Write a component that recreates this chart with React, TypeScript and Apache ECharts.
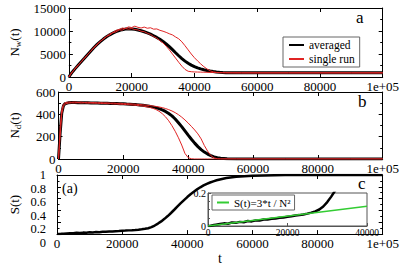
import React, { useEffect, useRef } from 'react';
import * as echarts from 'echarts';

// time grid (shared by all panels)
const T = [0, 500, 1000, 1500, 2000, 3000, 4000, 5000, 6000, 7000, 8000, 9000, 10000, 11000, 12000, 13000, 14000, 15000, 16000, 17000, 18000, 19000, 20000, 21000, 22000, 23000, 24000, 25000, 26000, 27000, 28000, 29000, 30000, 31000, 32000, 33000, 34000, 35000, 36000, 37000, 38000, 39000, 40000, 41000, 42000, 43000, 44000, 45000, 46000, 47000, 48000, 49000, 50000, 52000, 55000, 60000, 70000, 80000, 90000, 100000];

// panel a : N_w(t)
const nwAveraged = [0, 550, 1000, 1420, 1820, 2600, 3380, 4120, 4900, 5650, 6400, 7080, 7700, 8250, 8740, 9170, 9540, 9850, 10100, 10290, 10410, 10460, 10440, 10360, 10230, 10050, 9840, 9600, 9310, 8970, 8600, 8190, 7740, 7200, 6600, 5950, 5280, 4620, 4000, 3450, 2980, 2580, 2250, 1980, 1760, 1580, 1430, 1300, 1190, 1100, 1030, 980, 950, 920, 900, 900, 900, 900, 900, 900];
const nwRun1 = [0, 600, 1050, 1400, 1900, 2650, 3300, 4200, 4850, 5700, 6350, 7150, 7650, 8350, 8800, 9350, 9650, 10150, 10300, 10650, 10550, 10900, 10750, 11050, 10800, 10650, 10850, 10600, 10700, 10400, 10450, 10150, 9950, 9700, 9400, 9150, 8700, 8300, 7650, 6800, 5900, 5000, 4200, 3500, 2850, 2250, 1750, 1350, 1120, 1000, 950, 930, 920, 910, 900, 900, 900, 900, 900, 900];
const nwRun2 = [0, 520, 950, 1450, 1780, 2580, 3420, 4050, 4950, 5600, 6450, 7000, 7800, 8200, 8850, 9100, 9650, 9800, 10250, 10200, 10550, 10400, 10550, 10300, 10250, 9950, 9850, 9500, 9250, 8800, 8450, 7900, 7400, 6700, 5900, 5000, 4100, 3200, 2350, 1650, 1250, 1150, 1100, 1080, 1060, 1040, 1020, 1000, 980, 960, 950, 940, 930, 910, 900, 900, 900, 900, 900, 900];

// panel b : N_d(t)
const ndAveraged = [0, 230, 410, 475, 495, 503, 505, 505, 504, 504, 503, 503, 502, 502, 501, 500, 500, 499, 498, 497, 496, 495, 494, 492, 491, 489, 487, 484, 481, 477, 473, 467, 460, 451, 440, 426, 408, 386, 358, 325, 290, 252, 214, 177, 142, 111, 84, 62, 44, 30, 19, 12, 7, 2, 0, 0, 0, 0, 0, 0];
const ndRun1 = [0, 280, 440, 490, 505, 510, 508, 511, 507, 509, 506, 508, 505, 506, 503, 505, 502, 503, 500, 501, 498, 499, 496, 495, 494, 492, 490, 488, 485, 482, 479, 475, 471, 466, 460, 452, 442, 430, 415, 397, 375, 350, 322, 292, 260, 225, 180, 120, 70, 30, 10, 2, 0, 0, 0, 0, 0, 0, 0, 0];
const ndRun2 = [0, 200, 400, 470, 492, 500, 503, 502, 504, 501, 503, 500, 501, 499, 500, 497, 498, 495, 496, 493, 493, 490, 490, 487, 486, 483, 481, 477, 474, 469, 463, 455, 444, 428, 406, 378, 342, 298, 248, 190, 125, 50, 12, 2, 0, 0, 0, 0, 0, 0, 0, 0, 0, 0, 0, 0, 0, 0, 0, 0];

// panel c : S(t)
const sAveraged = [0, 0, 0.003, 0.006, 0.008, 0.012, 0.016, 0.014, 0.021, 0.019, 0.025, 0.023, 0.03, 0.028, 0.034, 0.033, 0.039, 0.04, 0.044, 0.046, 0.05, 0.052, 0.056, 0.059, 0.063, 0.066, 0.07, 0.075, 0.081, 0.089, 0.1, 0.118, 0.145, 0.178, 0.215, 0.258, 0.305, 0.357, 0.412, 0.468, 0.523, 0.576, 0.627, 0.675, 0.718, 0.757, 0.792, 0.823, 0.85, 0.873, 0.893, 0.91, 0.925, 0.948, 0.97, 0.988, 0.998, 1, 1, 1];
const sTicks = [0, 0.2, 0.4, 0.6, 0.8, 1];
// inset fit S(t)=3*t/N^2
const fitT = [0, 40000];
const fitS = [0, 0.12];

const FONT = '"Liberation Serif", "Times New Roman", serif';
const GRID_C = { left: 49, top: 175, width: 334, height: 68 };

const pairs = (xs: number[], ys: number[]) => xs.map((x, i) => [x, ys[i]]);
const fmtX = (v: number) => (v === 100000 ? '1e+05' : String(v));
const fmtY = (v: number) => String(Math.round(v * 1000) / 1000);

const tick = { show: true, inside: true, length: 4, lineStyle: { color: '#000', width: 1 } };
const line = { show: true, onZero: false, lineStyle: { color: '#000', width: 1 } };

function xAx(gridIndex: number, position: string, showLabel: boolean, extra: any = {}) {
  return {
    type: 'value', gridIndex, position, min: 0, max: 100000, interval: 20000,
    axisLine: line, axisTick: tick, minorTick: { show: false }, splitLine: { show: false },
    axisLabel: { show: showLabel, fontFamily: FONT, fontSize: 13, color: '#000', margin: 3, formatter: fmtX, showMinLabel: true, showMaxLabel: true, hideOverlap: false },
    ...extra,
  };
}
function yAx(gridIndex: number, position: string, max: number, interval: number, showLabel: boolean, fontSize: number, extra: any = {}) {
  return {
    type: 'value', gridIndex, position, min: 0, max, interval,
    axisLine: line, axisTick: tick,
    minorTick: { show: true, splitNumber: 2, length: 2.5, lineStyle: { color: '#000', width: 1 } },
    splitLine: { show: false },
    axisLabel: { show: showLabel, fontFamily: FONT, fontSize, lineHeight: 11, color: '#000', margin: 3, formatter: fmtY, showMinLabel: true, showMaxLabel: true, hideOverlap: false },
    ...extra,
  };
}
const yName = (name: string) => ({
  name, nameLocation: 'middle', nameRotate: 90, nameGap: 36,
  nameTextStyle: {
    color: '#000', fontFamily: FONT, fontSize: 13,
    rich: {
      n: { fontFamily: FONT, fontSize: 13, color: '#000' },
      s: { fontFamily: FONT, fontSize: 9, color: '#000', padding: [7, 0, 0, 0] },
    },
  },
});

export default function App() {
  const ref = useRef<HTMLDivElement>(null);
  useEffect(() => {
    const chart = echarts.init(ref.current!, null, { renderer: 'svg' });
    const RED = '#e02424';
    chart.setOption({
      animation: false,
      backgroundColor: '#fff',
      grid: [
        { left: 49, top: 8, width: 334, height: 69 },
        { left: 49, top: 92, width: 334, height: 67 },
        GRID_C,
        { left: 208, top: 193, width: 159, height: 33, show: true, backgroundColor: '#fff', borderColor: '#555', borderWidth: 1 },
      ],
      xAxis: [
        xAx(0, 'bottom', true),
        xAx(1, 'bottom', true),
        xAx(2, 'bottom', true, { name: 't', nameLocation: 'middle', nameGap: 14, nameTextStyle: { fontFamily: FONT, fontSize: 14, color: '#000' } }),
        xAx(0, 'top', false),
        xAx(1, 'top', false),
        xAx(2, 'top', false),
        {
          type: 'value', gridIndex: 3, position: 'bottom', min: 0, max: 40000, interval: 20000,
          axisLine: { show: true, onZero: false, lineStyle: { color: '#555' } },
          axisTick: { show: true, inside: true, length: 3, lineStyle: { color: '#555' } },
          splitLine: { show: false },
          axisLabel: { fontFamily: FONT, fontSize: 9.5, lineHeight: 10, color: '#000', margin: 2, formatter: fmtX, showMinLabel: true, showMaxLabel: true, hideOverlap: false },
        },
      ],
      yAxis: [
        yAx(0, 'left', 15000, 5000, true, 13, yName('{n|N}{s|w}{n|(t)}')),
        yAx(1, 'left', 600, 200, true, 13, yName('{n|N}{s|d}{n|(t)}')),
        yAx(2, 'left', 1, 0.2, false, 12, yName('{n|S(t)}')),
        yAx(0, 'right', 15000, 5000, false, 13),
        yAx(1, 'right', 600, 200, false, 13),
        yAx(2, 'right', 1, 0.2, false, 13),
        {
          type: 'value', gridIndex: 3, position: 'left', min: 0, max: 0.2, interval: 0.2,
          axisLine: { show: true, onZero: false, lineStyle: { color: '#555' } },
          axisTick: { show: true, inside: true, length: 3, lineStyle: { color: '#555' } },
          minorTick: { show: true, splitNumber: 4, length: 2, lineStyle: { color: '#555' } },
          splitLine: { show: false },
          axisLabel: { fontFamily: FONT, fontSize: 10, color: '#000', margin: 2, formatter: fmtY, showMinLabel: true, showMaxLabel: true, hideOverlap: false },
        },
      ],
      legend: [
        {
          data: ['averaged', 'single run'], orient: 'vertical', left: 283, top: 37,
          padding: [2, 5, 2, 5], itemGap: 2, itemWidth: 15, itemHeight: 10,
          itemStyle: { opacity: 0 },
          borderColor: '#666', borderWidth: 1, backgroundColor: '#fff',
          textStyle: { fontFamily: FONT, fontSize: 11.5, color: '#000' },
        },
        {
          data: ['S(t)=3*t / N²'], orient: 'vertical', left: 212, top: 195,
          padding: [2, 4, 2, 4], itemWidth: 12, itemHeight: 8,
          itemStyle: { opacity: 0 },
          borderColor: '#666', borderWidth: 1, backgroundColor: '#fff',
          textStyle: { fontFamily: FONT, fontSize: 11, color: '#000' },
        },
      ],
      series: [
        { name: 'averaged', type: 'line', xAxisIndex: 0, yAxisIndex: 0, data: pairs(T, nwAveraged), symbol: 'none', lineStyle: { color: '#000', width: 3 }, itemStyle: { color: '#000' } },
        { name: 'single run', type: 'line', xAxisIndex: 0, yAxisIndex: 0, data: pairs(T, nwRun1), symbol: 'none', lineStyle: { color: RED, width: 1 }, itemStyle: { color: RED } },
        { name: 'single run', type: 'line', xAxisIndex: 0, yAxisIndex: 0, data: pairs(T, nwRun2), symbol: 'none', lineStyle: { color: RED, width: 1 }, itemStyle: { color: RED } },
        { name: 'nd averaged', type: 'line', xAxisIndex: 1, yAxisIndex: 1, data: pairs(T, ndAveraged), symbol: 'none', lineStyle: { color: '#000', width: 3 } },
        { name: 'nd run1', type: 'line', xAxisIndex: 1, yAxisIndex: 1, data: pairs(T, ndRun1), symbol: 'none', lineStyle: { color: RED, width: 1 } },
        { name: 'nd run2', type: 'line', xAxisIndex: 1, yAxisIndex: 1, data: pairs(T, ndRun2), symbol: 'none', lineStyle: { color: RED, width: 1 } },
        { name: 'S', type: 'line', xAxisIndex: 2, yAxisIndex: 2, data: pairs(T, sAveraged), symbol: 'none', lineStyle: { color: '#000', width: 2.5 } },
        { name: 'S inset', type: 'line', xAxisIndex: 6, yAxisIndex: 6, data: pairs(T, sAveraged), symbol: 'none', lineStyle: { color: '#000', width: 2.5 }, z: 3 },
        { name: 'S(t)=3*t / N²', type: 'line', xAxisIndex: 6, yAxisIndex: 6, data: pairs(fitT, fitS), symbol: 'none', lineStyle: { color: '#33cc33', width: 1.5 }, itemStyle: { color: '#33cc33' }, z: 4 },
      ],
      graphic: [
        { type: 'text', left: 356, top: 9, style: { text: 'a', fontFamily: FONT, fontSize: 17, fill: '#000' } },
        { type: 'text', left: 358, top: 93, style: { text: 'b', fontFamily: FONT, fontSize: 17, fill: '#000' } },
        { type: 'text', left: 358, top: 175, style: { text: 'c', fontFamily: FONT, fontSize: 17, fill: '#000' } },
        { type: 'text', left: 62, top: 181, style: { text: '(a)', fontFamily: FONT, fontSize: 14, fill: '#000' } },
        // S(t) tick labels (axis range 0..1 mapped onto panel c's grid)
        ...sTicks.map((v) => ({
          type: 'text', x: GRID_C.left - 3, y: GRID_C.top + GRID_C.height - v * GRID_C.height,
          style: { text: fmtY(v), fontFamily: FONT, fontSize: 12.5, fill: '#000', align: 'right', verticalAlign: 'middle' },
        })),
      ],
    });
    return () => chart.dispose();
  }, []);
  return <div ref={ref} style={{ position: 'fixed', left: 0, top: 0, width: 402, height: 266 }} />;
}
